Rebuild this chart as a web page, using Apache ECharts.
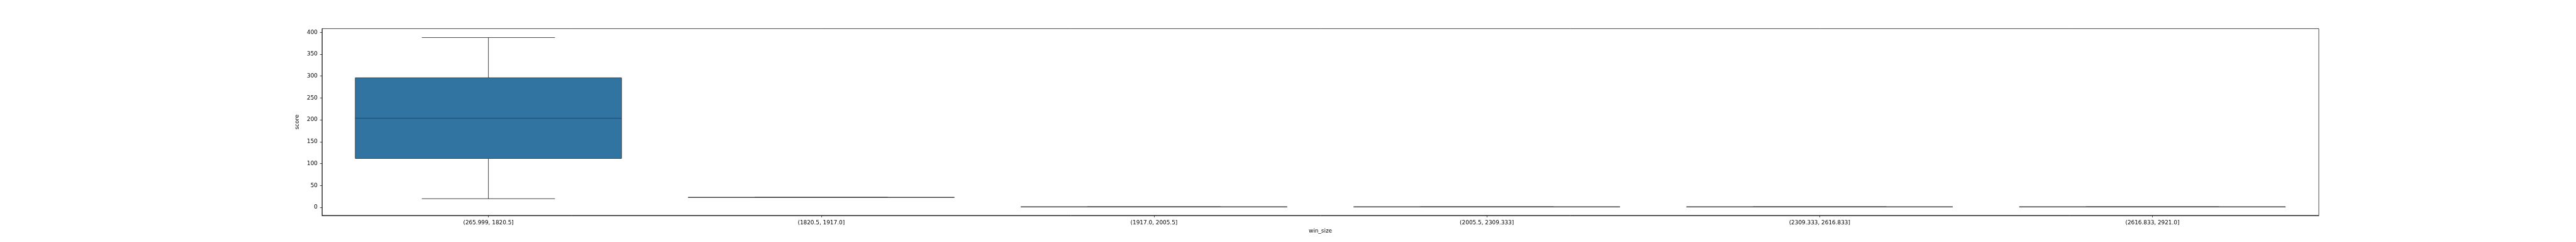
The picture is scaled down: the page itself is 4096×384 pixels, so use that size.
<!DOCTYPE html>
<html>
<head>
<meta charset="utf-8">
<script src="https://cdn.jsdelivr.net/npm/echarts@6/dist/echarts.min.js"></script>
<style>
html, body { margin: 0; padding: 0; background: #ffffff; }
#chart { width: 4096px; height: 384px; }
</style>
</head>
<body>
<div id="chart"></div>
<script>
// ---- data ----
const categories = ['(265.999, 1820.5]', '(1820.5, 1917.0]', '(1917.0, 2005.5]', '(2005.5, 2309.333]', '(2309.333, 2616.833]', '(2616.833, 2921.0]'];
const whiskerLow = [19.7, 22.6, 1, 1, 1, 1];
const q1Values = [111.7, 22.6, 1, 1, 1, 1];
const medians = [203.6, 22.6, 1, 1, 1, 1];
const q3Values = [296.0, 22.6, 1, 1, 1, 1];
const whiskerHigh = [387.9, 22.6, 1, 1, 1, 1];
const yTicks = [0, 50, 100, 150, 200, 250, 300, 350, 400];
const yLimits = [-18.4, 408.3];

const S = 0.64;
const FONT = 'DejaVu Sans';
const BOX_FILL = '#3274a1';
const LINE = '#3f3f3f';

const data = categories.map((c, i) => [i, whiskerLow[i], q1Values[i], medians[i], q3Values[i], whiskerHigh[i]]);

function renderItem(params, api) {
  const i = api.value(0);
  const band = api.size([1, 0])[0];
  const boxHalf = band * 0.4;
  const capHalf = band * 0.2;
  const pMin = api.coord([i, api.value(1)]);
  const pQ1 = api.coord([i, api.value(2)]);
  const pMed = api.coord([i, api.value(3)]);
  const pQ3 = api.coord([i, api.value(4)]);
  const pMax = api.coord([i, api.value(5)]);
  const x = pMed[0];
  const ls = () => ({ stroke: LINE, lineWidth: 1.5 * S, fill: null });
  return {
    type: 'group',
    children: [
      { type: 'rect', shape: { x: x - boxHalf, y: pQ3[1], width: 2 * boxHalf, height: pQ1[1] - pQ3[1] },
        style: { fill: BOX_FILL, stroke: LINE, lineWidth: 1.5 * S } },
      { type: 'line', shape: { x1: x, y1: pQ1[1], x2: x, y2: pMin[1] }, style: ls() },
      { type: 'line', shape: { x1: x, y1: pQ3[1], x2: x, y2: pMax[1] }, style: ls() },
      { type: 'line', shape: { x1: x - capHalf, y1: pMin[1], x2: x + capHalf, y2: pMin[1] }, style: ls() },
      { type: 'line', shape: { x1: x - capHalf, y1: pMax[1], x2: x + capHalf, y2: pMax[1] }, style: ls() },
      { type: 'line', shape: { x1: x - boxHalf, y1: pMed[1], x2: x + boxHalf, y2: pMed[1] }, style: ls() }
    ]
  };
}

const AXW = 0.8 * 1.39 * S;
const chart = echarts.init(document.getElementById('chart'), null, { renderer: 'canvas' });
chart.setOption({
  animation: false,
  backgroundColor: '#ffffff',
  grid: {
    left: 800 * S,
    right: 4096 - 5761 * S,
    top: 71 * S,
    bottom: 384 - 534 * S,
    show: true,
    borderColor: '#000000',
    borderWidth: AXW,
    backgroundColor: 'transparent'
  },
  xAxis: {
    type: 'category',
    data: categories,
    boundaryGap: true,
    name: 'win_size',
    nameLocation: 'middle',
    nameGap: 17,
    nameTextStyle: { fontFamily: FONT, fontSize: 13.9 * S, color: '#000000' },
    axisLine: { show: true, onZero: false, lineStyle: { color: '#000000', width: AXW } },
    axisTick: { show: true, alignWithLabel: true, length: 4.9 * S, lineStyle: { color: '#000000', width: AXW } },
    axisLabel: { interval: 0, margin: 7, fontFamily: FONT, fontSize: 13.9 * S, color: '#000000' },
    splitLine: { show: false }
  },
  yAxis: {
    type: 'value',
    min: yLimits[0],
    max: yLimits[1],
    name: 'score',
    nameLocation: 'middle',
    nameGap: 24,
    nameTextStyle: { fontFamily: FONT, fontSize: 13.9 * S, color: '#000000' },
    axisLine: { show: true, onZero: false, lineStyle: { color: '#000000', width: AXW } },
    axisTick: { show: true, length: 4.9 * S, customValues: yTicks, lineStyle: { color: '#000000', width: AXW } },
    axisLabel: { margin: 7, customValues: yTicks, fontFamily: FONT, fontSize: 13.9 * S, color: '#000000' },
    splitLine: { show: false }
  },
  series: [{
    type: 'custom',
    renderItem: renderItem,
    data: data,
    encode: { x: 0, y: [1, 2, 3, 4, 5] },
    clip: false
  }]
});
</script>
</body>
</html>
